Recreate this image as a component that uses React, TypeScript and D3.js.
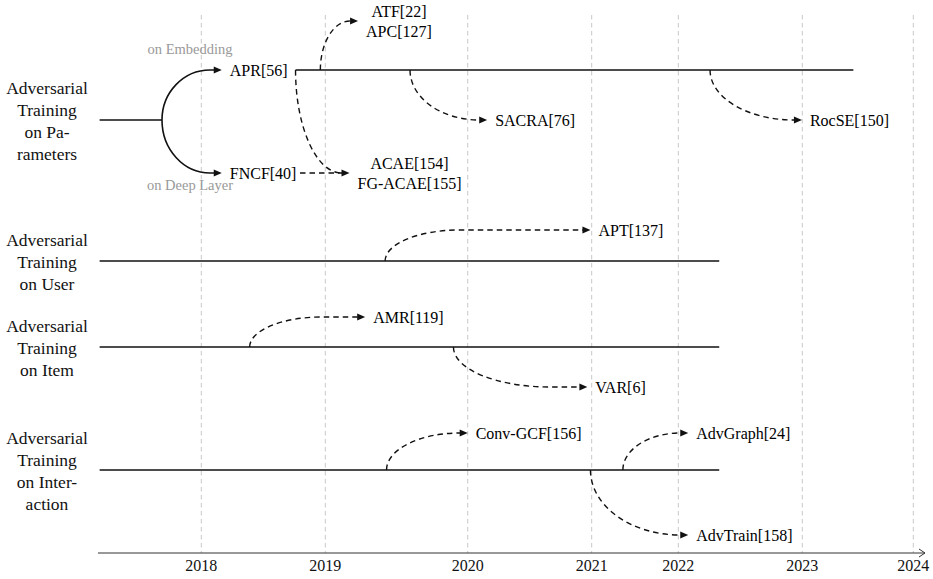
import React from 'react';
import * as d3 from 'd3';

// ---------------- data ----------------
const years = [2018, 2019, 2020, 2021, 2022, 2023, 2024];

const laneKeys = ['Parameters', 'User', 'Item', 'Interaction'];
const laneLabelLines = [
  ['Adversarial', 'Training', 'on Pa-', 'rameters'],
  ['Adversarial', 'Training', 'on User'],
  ['Adversarial', 'Training', 'on Item'],
  ['Adversarial', 'Training', 'on Inter-', 'action'],
];
const laneStartYear = 2017.18;
const laneEndYear = [2017.683, 2022.33, 2022.33, 2022.33];

// split of the "Parameters" lane
const splitLabels = ['APR[56]', 'FNCF[40]'];
const splitNotes = ['on Embedding', 'on Deep Layer'];
const splitTipYear = 2018.165;
const aprLineYears = [2018.76, 2023.46];
const fncfLinkYears = [2018.796, 2019.17];

// dashed follow-up links
const linkLabels = [
  ['ATF[22]', 'APC[127]'],
  ['ACAE[154]', 'FG-ACAE[155]'],
  ['SACRA[76]'],
  ['RocSE[150]'],
  ['APT[137]'],
  ['AMR[119]'],
  ['VAR[6]'],
  ['Conv-GCF[156]'],
  ['AdvGraph[24]'],
  ['AdvTrain[158]'],
];
const linkLane = ['APR', 'APR', 'APR', 'APR', 'User', 'Item', 'Item', 'Interaction', 'Interaction', 'Interaction'];
const linkFromYear = [2018.96, 2018.76, 2019.595, 2022.256, 2019.42, 2018.39, 2019.9, 2019.43, 2021.36, 2020.99];
const linkToYear = [2019.23, 2019.17, 2020.157, 2022.997, 2020.99, 2019.28, 2020.965, 2020.0, 2022.08, 2022.08];

// ---------------- layout ----------------
const W = 933;
const H = 579;
const tickX = [201.3, 325.3, 467.7, 591.7, 678.3, 802.3, 913.3];
const laneY: Record<string, number> = {
  APR: 70, Parameters: 120, FNCF: 173, User: 261, Item: 347, Interaction: 470,
};
const linkDy = [-49, 103, 50, 50, -31, -30, 40, -37, -37, 65];
const axisY = 553;
const gridTop = 15;
const axisX0 = 98;
const axisX1 = 925;
const FONT = "'Liberation Serif', 'Times New Roman', Tinos, serif";
const ARROW = 8;

const x = d3.scaleLinear().domain(years).range(tickX);

let ctx: CanvasRenderingContext2D | null = null;
function measure(t: string, size: number) {
  if (!ctx) ctx = document.createElement('canvas').getContext('2d');
  if (!ctx) return t.length * size * 0.5;
  ctx.font = `${size}px ${FONT}`;
  return ctx.measureText(t).width;
}

function elbow(x0: number, y0: number, tip: number, y1: number, rx: number) {
  const k = 0.5523;
  const p = d3.path();
  p.moveTo(x0, y0);
  p.bezierCurveTo(x0, y0 + (y1 - y0) * k, x0 + rx * (1 - k), y1, x0 + rx, y1);
  p.lineTo(tip - ARROW + 1, y1);
  return p.toString();
}

function arrowHead(tx: number, ty: number) {
  const p = d3.path();
  p.moveTo(tx, ty);
  p.lineTo(tx - ARROW, ty - 3.6);
  p.lineTo(tx - ARROW, ty + 3.6);
  p.closePath();
  return p.toString();
}

function NodeText({ lines, tip, y }: { lines: string[]; tip: number; y: number }) {
  const size = 16;
  const gap = 8;
  if (lines.length === 1) {
    return (
      <text x={tip + gap} y={y + 5.5} fontSize={size} fill="#000">
        {lines[0]}
      </text>
    );
  }
  const wmax = Math.max(...lines.map((l) => measure(l, size)));
  const cx = tip + gap + wmax / 2;
  return (
    <g>
      {lines.map((l, i) => (
        <text key={i} x={cx} y={y + 5.5 + (i - (lines.length - 1) / 2) * 20}
          fontSize={size} textAnchor="middle" fill="#000">{l}</text>
      ))}
    </g>
  );
}

export default function App() {
  const lineColor = '#111';
  const xs = x(laneStartYear);

  const splitX = x(laneEndYear[0]);
  const tipX = x(splitTipYear);
  const pY = laneY.Parameters;
  const splitTargets = [laneY.APR, laneY.FNCF];

  return (
    <svg width={W} height={H}
      style={{ position: 'absolute', left: 0, top: 0, background: '#fff', fontFamily: FONT }}>
      {/* grid */}
      {years.map((yr) => (
        <line key={yr} x1={x(yr)} x2={x(yr)} y1={gridTop} y2={axisY}
          stroke="#c8c8c8" strokeWidth={1} strokeDasharray="4.5 3.5" />
      ))}

      {/* axis */}
      <line x1={axisX0} x2={axisX1} y1={axisY} y2={axisY} stroke="#333" strokeWidth={1} />
      <path d={`M${axisX1 - 6},${axisY - 4} L${axisX1},${axisY} L${axisX1 - 6},${axisY + 4}`}
        fill="none" stroke="#333" strokeWidth={1} />
      {years.map((yr) => (
        <text key={yr} x={x(yr)} y={axisY + 18} fontSize={16}
          textAnchor="middle" fill="#111">{yr}</text>
      ))}

      {/* lane labels */}
      {laneKeys.map((k, i) => (
        <g key={k}>
          {laneLabelLines[i].map((l, j) => (
            <text key={j} x={47} y={laneY[k] + 7 + (j - (laneLabelLines[i].length - 1) / 2) * 21.7}
              fontSize={17.5} textAnchor="middle" fill="#111">{l}</text>
          ))}
        </g>
      ))}

      {/* lane lines */}
      {laneKeys.map((k, i) => (
        <line key={k} x1={xs} x2={x(laneEndYear[i])} y1={laneY[k]} y2={laneY[k]}
          stroke={lineColor} strokeWidth={1.6} />
      ))}

      {/* parameter split */}
      {splitTargets.map((ty, i) => (
        <g key={i}>
          <path d={elbow(splitX, pY, tipX, ty, 48)} fill="none" stroke={lineColor} strokeWidth={1.6} />
          <path d={arrowHead(tipX, ty)} fill={lineColor} />
          <text x={tipX + 8} y={ty + 5.5} fontSize={16} fill="#000">{splitLabels[i]}</text>
          <text x={190} y={i === 0 ? 54 : 190} fontSize={14.5}
            textAnchor="middle" fill="#999">{splitNotes[i]}</text>
        </g>
      ))}
      <line x1={x(aprLineYears[0])} x2={x(aprLineYears[1])} y1={laneY.APR} y2={laneY.APR}
        stroke={lineColor} strokeWidth={1.6} />
      <line x1={x(fncfLinkYears[0])} x2={x(fncfLinkYears[1]) - ARROW + 1} y1={laneY.FNCF} y2={laneY.FNCF}
        stroke={lineColor} strokeWidth={1.4} strokeDasharray="5.5 4" />

      {/* dashed links */}
      {linkLabels.map((lab, i) => {
        const x0 = x(linkFromYear[i]);
        const y0 = laneY[linkLane[i]];
        const tip = x(linkToYear[i]);
        const y1 = y0 + linkDy[i];
        const rx = Math.min(tip - x0 - ARROW, 2.4 * Math.abs(linkDy[i]));
        return (
          <g key={i}>
            <path d={elbow(x0, y0, tip, y1, rx)} fill="none" stroke={lineColor}
              strokeWidth={1.4} strokeDasharray="5.5 4" />
            <path d={arrowHead(tip, y1)} fill={lineColor} />
            <NodeText lines={lab} tip={tip} y={y1} />
          </g>
        );
      })}
    </svg>
  );
}
